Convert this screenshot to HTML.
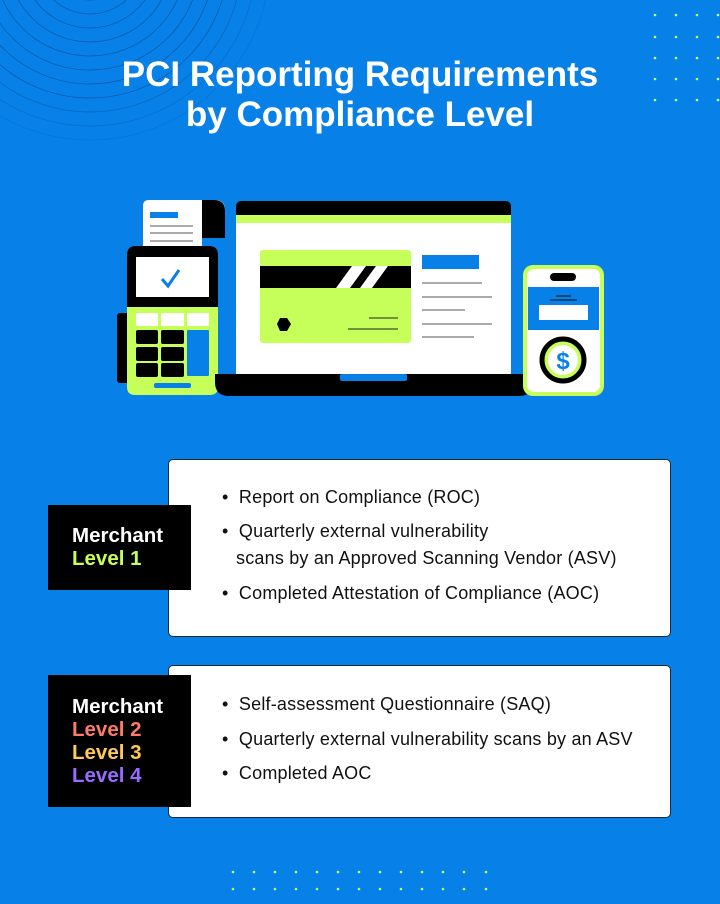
<!DOCTYPE html>
<html><head><meta charset="utf-8"><style>
html,body{margin:0;padding:0}
body{width:720px;height:904px;background:#0780e8;position:relative;overflow:hidden;font-family:"Liberation Sans",sans-serif}
.t{position:absolute;left:0;width:720px;text-align:center;color:#fff;font-size:35px;font-weight:bold;line-height:40px}
.box{position:absolute;left:168px;width:501px;background:#fff;border:1px solid #1a2a3a;border-radius:5px}
.lab{position:absolute;left:48px;width:143px;background:#000;color:#fff;font-size:20.5px;font-weight:bold;line-height:23px;padding-left:24px;box-sizing:border-box}
.li{position:absolute;left:222px;font-size:18px;color:#111;white-space:nowrap;letter-spacing:0.2px}
</style></head><body>
<svg width="720" height="904" style="position:absolute;left:0;top:0">
<g fill="none" stroke="#0a3d78" stroke-width="0.7" opacity="0.6">
<circle cx="90" cy="-40" r="40"/><circle cx="90" cy="-40" r="54"/><circle cx="90" cy="-40" r="68"/><circle cx="90" cy="-40" r="82"/><circle cx="90" cy="-40" r="96"/><circle cx="90" cy="-40" r="110"/><circle cx="90" cy="-40" r="124"/><circle cx="90" cy="-40" r="138"/><circle cx="90" cy="-40" r="152" opacity=".7"/><circle cx="90" cy="-40" r="166" opacity=".5"/><circle cx="90" cy="-40" r="180" opacity=".3"/>
</g>
<g fill="#c6ff5a">
<circle cx="655" cy="15" r="1.3"/><circle cx="676" cy="15" r="1.3"/><circle cx="697" cy="15" r="1.3"/><circle cx="718" cy="15" r="1.3"/>
<circle cx="655" cy="37" r="1.3"/><circle cx="676" cy="37" r="1.3"/><circle cx="697" cy="37" r="1.3"/><circle cx="718" cy="37" r="1.3"/>
<circle cx="655" cy="58" r="1.3"/><circle cx="676" cy="58" r="1.3"/><circle cx="697" cy="58" r="1.3"/><circle cx="718" cy="58" r="1.3"/>
<circle cx="655" cy="79" r="1.3"/><circle cx="676" cy="79" r="1.3"/><circle cx="697" cy="79" r="1.3"/><circle cx="718" cy="79" r="1.3"/>
<circle cx="655" cy="100" r="1.3"/><circle cx="676" cy="100" r="1.3"/><circle cx="697" cy="100" r="1.3"/><circle cx="718" cy="100" r="1.3"/>
</g>
<g fill="#c6ff5a">
<circle cx="233" cy="872" r="1.3"/><circle cx="254" cy="872" r="1.3"/><circle cx="275" cy="872" r="1.3"/><circle cx="296" cy="872" r="1.3"/><circle cx="317" cy="872" r="1.3"/><circle cx="338" cy="872" r="1.3"/><circle cx="359" cy="872" r="1.3"/><circle cx="380" cy="872" r="1.3"/><circle cx="401" cy="872" r="1.3"/><circle cx="422" cy="872" r="1.3"/><circle cx="443" cy="872" r="1.3"/><circle cx="464" cy="872" r="1.3"/><circle cx="486" cy="872" r="1.3"/>
<circle cx="233" cy="889" r="1.3"/><circle cx="254" cy="889" r="1.3"/><circle cx="275" cy="889" r="1.3"/><circle cx="296" cy="889" r="1.3"/><circle cx="317" cy="889" r="1.3"/><circle cx="338" cy="889" r="1.3"/><circle cx="359" cy="889" r="1.3"/><circle cx="380" cy="889" r="1.3"/><circle cx="401" cy="889" r="1.3"/><circle cx="422" cy="889" r="1.3"/><circle cx="443" cy="889" r="1.3"/><circle cx="464" cy="889" r="1.3"/><circle cx="486" cy="889" r="1.3"/>
</g>
<path d="M143 206 q0-6 6-6 h66 q10 0 10 10 v27 h-23 v10 h-59 z" fill="#fff"/>
<path d="M202 200 h12 q11 0 11 11 v27 h-23 z" fill="#000"/>
<rect x="150" y="212" width="28" height="6" fill="#0780e8"/>
<g stroke="#555" stroke-width="1"><line x1="150" y1="226" x2="193" y2="226"/><line x1="150" y1="233" x2="193" y2="233"/><line x1="150" y1="241" x2="193" y2="241"/></g>
<rect x="117" y="313" width="14" height="70" rx="3" fill="#000"/>
<path d="M127 255 q0-9 9-9 h73 q9 0 9 9 v52 h-91 z" fill="#000"/>
<path d="M127 307 h91 v80 q0 8-8 8 h-75 q-8 0-8-8 z" fill="#c6ff5a"/>
<rect x="136" y="257" width="73" height="40" fill="#fff"/>
<path d="M162 279 l6 7 l11-16" fill="none" stroke="#0780e8" stroke-width="3"/>
<g fill="#fff"><rect x="136" y="313" width="22" height="13" rx="1"/><rect x="161" y="313" width="23" height="13" rx="1"/><rect x="187" y="313" width="22" height="13" rx="1"/></g>
<g fill="#000"><rect x="136" y="330" width="22" height="14" rx="2"/><rect x="161" y="330" width="23" height="14" rx="2"/><rect x="136" y="347" width="22" height="14" rx="2"/><rect x="161" y="347" width="23" height="14" rx="2"/><rect x="136" y="363" width="22" height="14" rx="2"/><rect x="161" y="363" width="23" height="14" rx="2"/></g>
<rect x="187" y="330" width="22" height="46" rx="1" fill="#0780e8"/>
<rect x="154" y="383" width="37" height="5" rx="2" fill="#0780e8"/>
<path d="M236 207 q0-6 6-6 h263 q6 0 6 6 v8 h-275 z" fill="#000"/>
<rect x="236" y="215" width="275" height="8" fill="#c6ff5a"/>
<rect x="236" y="223" width="275" height="152" fill="#fff"/>
<path d="M215 374 h318 v8 q0 14-14 14 h-290 q-14 0-14-14 z" fill="#000"/>
<rect x="340" y="374" width="67" height="7" rx="2" fill="#0780e8"/>
<rect x="260" y="250" width="151" height="93" rx="3" fill="#c6ff5a"/>
<rect x="260" y="266" width="151" height="22" fill="#000"/>
<path d="M336 288 l16-22 h14 l-16 22 z M360 288 l16-22 h12 l-16 22 z" fill="#fff"/>
<polygon points="277,324 280,318 287,318 291,324 287,331 280,331" fill="#000"/>
<g stroke="#222" stroke-width="1"><line x1="369" y1="318" x2="398" y2="318"/><line x1="348" y1="329" x2="398" y2="329"/></g>
<rect x="422" y="255" width="57" height="14" fill="#0780e8"/>
<g stroke="#555" stroke-width="1"><line x1="422" y1="283" x2="482" y2="283"/><line x1="422" y1="297" x2="492" y2="297"/><line x1="422" y1="310" x2="465" y2="310"/><line x1="422" y1="324" x2="492" y2="324"/><line x1="422" y1="337" x2="474" y2="337"/></g>
<rect x="523" y="265" width="81" height="131" rx="10" fill="#c6ff5a"/>
<rect x="527" y="269" width="73" height="123" rx="7" fill="#fff"/>
<rect x="550" y="273" width="26" height="8" rx="4" fill="#000"/>
<rect x="528" y="287" width="71" height="43" fill="#0780e8"/>
<rect x="539" y="305" width="49" height="15" fill="#fff"/>
<g stroke="#111" stroke-width="1"><line x1="556" y1="296" x2="571" y2="296"/><line x1="550" y1="300" x2="577" y2="300"/></g>
<circle cx="563" cy="360" r="21" fill="#c6ff5a" stroke="#000" stroke-width="5"/>
<circle cx="563" cy="360" r="15" fill="#fff"/>
<text x="563" y="369" text-anchor="middle" font-family="Liberation Sans" font-weight="bold" font-size="24" fill="#0780e8">$</text>
</svg>
<div class="t" style="top:55px">PCI Reporting Requirements</div>
<div class="t" style="top:95px">by Compliance Level</div>

<div class="box" style="top:459px;height:176px"></div>
<div class="lab" style="top:505px;height:85px;padding-top:19px">Merchant<br><span style="color:#c6ff5a">Level 1</span></div>
<div class="li" style="top:487px">•&nbsp; Report on Compliance (ROC)</div>
<div class="li" style="top:521px">•&nbsp; Quarterly external vulnerability</div>
<div class="li" style="top:548px;left:236px">scans by an Approved Scanning Vendor (ASV)</div>
<div class="li" style="top:583px">•&nbsp; Completed Attestation of Compliance (AOC)</div>

<div class="box" style="top:665px;height:151px"></div>
<div class="lab" style="top:675px;height:132px;padding-top:20px">Merchant<br><span style="color:#ff7a6a">Level 2</span><br><span style="color:#ffc85a">Level 3</span><br><span style="color:#9a6bff">Level 4</span></div>
<div class="li" style="top:694px">•&nbsp; Self-assessment Questionnaire (SAQ)</div>
<div class="li" style="top:729px">•&nbsp; Quarterly external vulnerability scans by an ASV</div>
<div class="li" style="top:763px">•&nbsp; Completed AOC</div>
</body></html>
